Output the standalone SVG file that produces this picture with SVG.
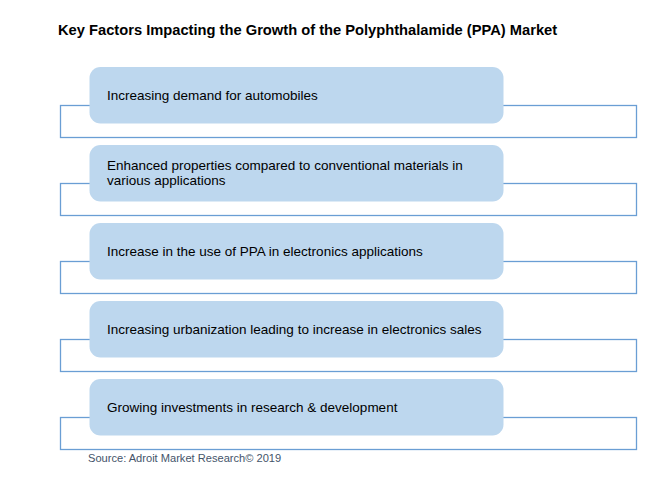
<svg xmlns="http://www.w3.org/2000/svg" width="672" height="477" viewBox="0 0 672 477">
<style>
.frame{fill:none;stroke:#6A9ED4;stroke-width:1.3}
.box{fill:#BDD7EE}
.t{font-family:"Liberation Sans",Arial,sans-serif;font-size:13.5px;fill:#000}
.title{font-family:"Liberation Sans",Arial,sans-serif;font-size:14.7px;font-weight:bold;fill:#000}
.src{font-family:"Liberation Sans",Arial,sans-serif;font-size:11.1px;fill:#44546A}
</style>
<rect width="672" height="477" fill="#fff"/>
<text class="title" x="58" y="35">Key Factors Impacting the Growth of the Polyphthalamide (PPA) Market</text>
<g id="connectors">
<rect class="frame" x="60.5" y="105.5" width="576" height="32"/>
<rect class="frame" x="60.5" y="183.5" width="576" height="32"/>
<rect class="frame" x="60.5" y="261.5" width="576" height="32"/>
<rect class="frame" x="60.5" y="339.5" width="576" height="32"/>
<rect class="frame" x="60.5" y="417.5" width="576" height="32"/>
</g>
<g id="n1"><rect class="box" x="89.5" y="67" width="414" height="56.5" rx="11"/><text class="t" x="107" y="99.5">Increasing demand for automobiles</text></g>
<g id="n2"><rect class="box" x="89.5" y="145" width="414" height="56.5" rx="11"/><text class="t" x="107" y="169.5">Enhanced properties compared to conventional materials in</text><text class="t" x="107" y="184.5">various applications</text></g>
<g id="n3"><rect class="box" x="89.5" y="223" width="414" height="56.5" rx="11"/><text class="t" x="107" y="255.5">Increase in the use of PPA in electronics applications</text></g>
<g id="n4"><rect class="box" x="89.5" y="301" width="414" height="56.5" rx="11"/><text class="t" x="107" y="333.5">Increasing urbanization leading to increase in electronics sales</text></g>
<g id="n5"><rect class="box" x="89.5" y="379" width="414" height="56.5" rx="11"/><text class="t" x="107" y="411.5">Growing investments in research &amp; development</text></g>
<text class="src" x="88" y="462">Source: Adroit Market Research© 2019</text>
</svg>
